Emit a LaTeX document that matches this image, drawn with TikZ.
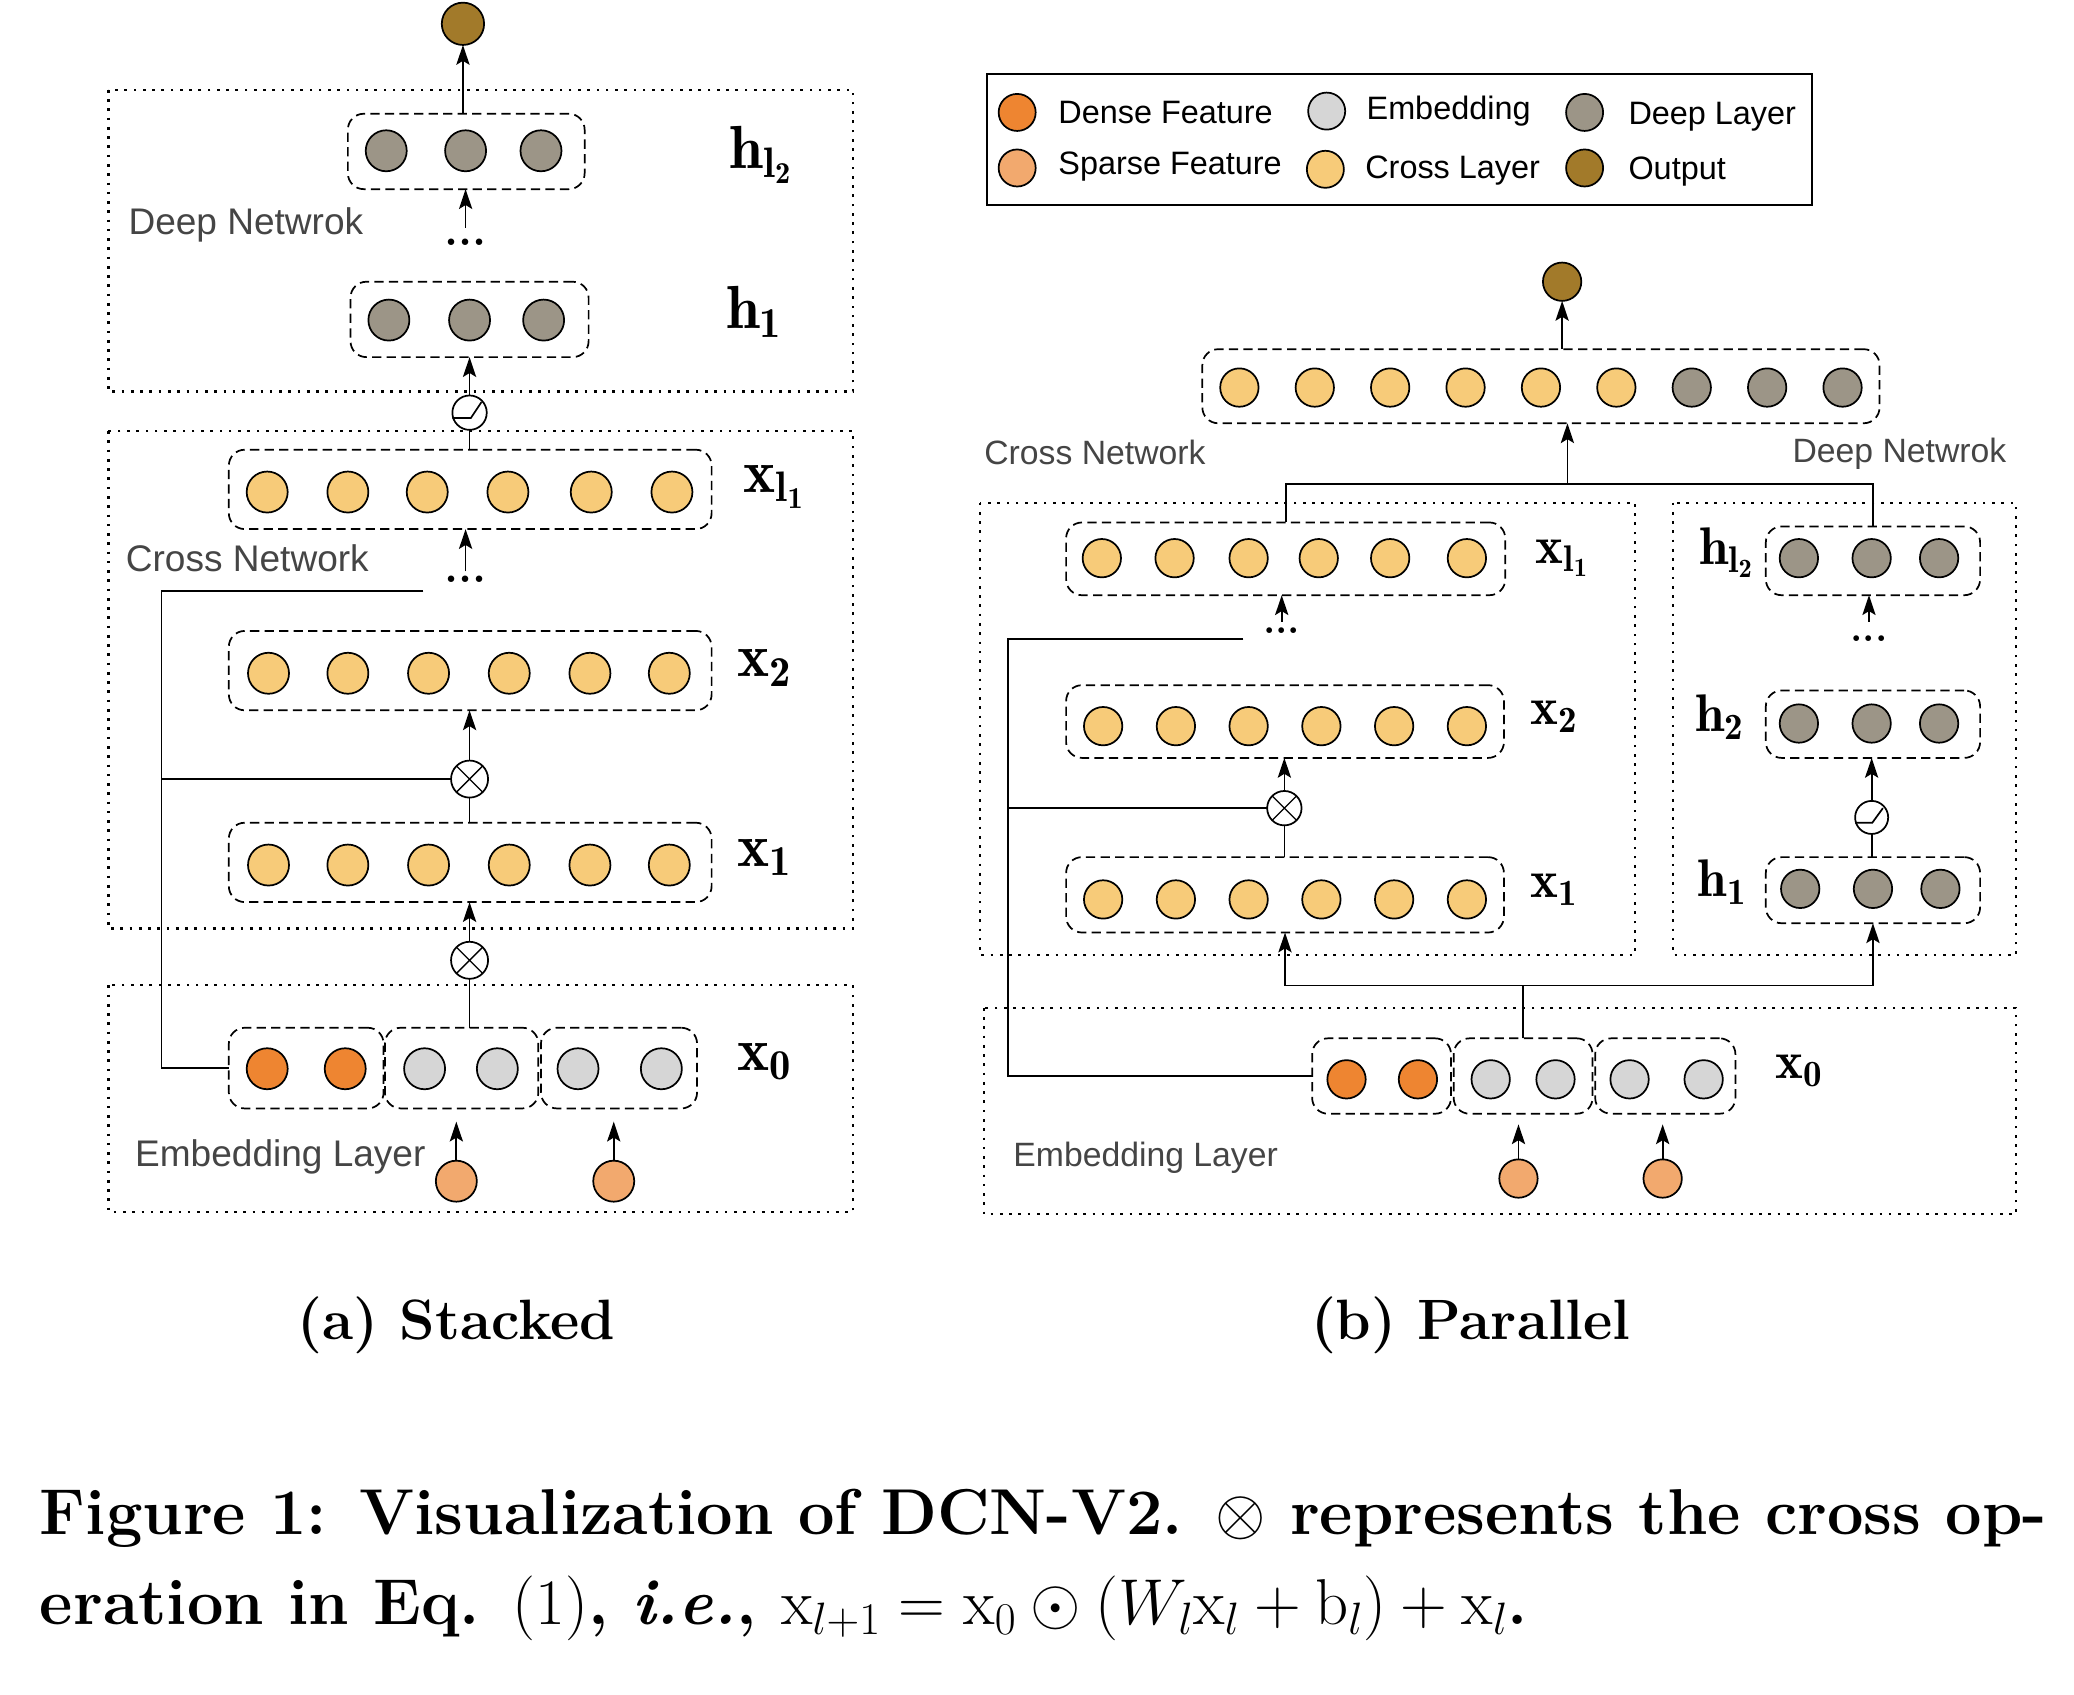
\RequirePackage{fix-cm}
\documentclass[tikz,border=0pt]{standalone}
\usepackage{fontspec}
\setsansfont{Liberation Sans}
\usetikzlibrary{arrows.meta,calc}
\definecolor{crossc}{HTML}{F7CB79}
\definecolor{deepc}{HTML}{9C9587}
\definecolor{densec}{HTML}{EE8531}
\definecolor{sparsec}{HTML}{F2A96E}
\definecolor{embc}{HTML}{D6D6D6}
\definecolor{outc}{HTML}{A27A2A}
\definecolor{labgray}{HTML}{454545}
\begin{document}
\begin{tikzpicture}[x=1pt,y=-1pt,
 conn/.style={line width=1.3pt},
 arr/.style={conn,-{Stealth[length=15pt,width=10pt,inset=3pt]}},
 neuron/.style={circle,draw=black,line width=1.3pt,minimum size=31pt,inner sep=0pt,outer sep=0pt},
 neuronb/.style={neuron,minimum size=29pt},
 crossA/.style={neuron,fill=crossc}, deepA/.style={neuron,fill=deepc},
 denseA/.style={neuron,fill=densec}, embA/.style={neuron,fill=embc},
 sparseA/.style={neuron,fill=sparsec}, outA/.style={neuron,fill=outc,minimum size=32pt},
 crossB/.style={neuronb,fill=crossc}, deepB/.style={neuronb,fill=deepc},
 denseB/.style={neuronb,fill=densec}, embB/.style={neuronb,fill=embc},
 sparseB/.style={neuronb,fill=sparsec}, outB/.style={neuronb,fill=outc},
 legc/.style={neuron,minimum size=28pt},
 grp/.style={draw,line width=1.3pt,dash pattern=on 7pt off 4pt,rounded corners=12pt,inner sep=0pt,outer sep=0pt},
 outerbox/.style={line width=1.6pt,dash pattern=on 2pt off 5pt},
 opnode/.style={circle,draw=black,fill=white,line width=1.3pt,inner sep=0pt,outer sep=0pt,minimum size=28pt},
 opnodeb/.style={opnode,minimum size=26pt},
 mlabA/.style={inner sep=0pt,font=\fontsize{46}{48}\selectfont},
 mlabB/.style={inner sep=0pt,font=\fontsize{40}{42}\selectfont},
 dotsA/.style={inner sep=0pt,font=\bfseries\fontsize{34}{36}\selectfont},
 netlabA/.style={inner sep=0pt,anchor=west,text=labgray,font=\sffamily\fontsize{28}{30}\selectfont},
 netlabB/.style={inner sep=0pt,text=labgray,font=\sffamily\fontsize{25.5}{28}\selectfont},
 legtext/.style={inner sep=0pt,anchor=west,font=\sffamily\fontsize{24.5}{27}\selectfont},
 subcap/.style={inner sep=0pt,font=\bfseries\fontsize{43}{46}\selectfont},
 figcap/.style={inner sep=0pt,anchor=base west,font=\bfseries\fontsize{49}{52}\selectfont}
]
\useasboundingbox (0,0) rectangle (1568,1281);

%================ (a) Stacked =================
\draw[outerbox] (82,68) rectangle (645,296);
\draw[outerbox] (82,326) rectangle (645,702);
\draw[outerbox] (82,745) rectangle (645,916);

\node[outA] (aO) at (350,18) {};
% deep
\foreach \x [count=\i] in {292,352,409} \node[deepA] (aHl\i) at (\x,114) {};
\node[grp,minimum width=179pt,minimum height=57pt] (aH2) at (352.5,114.5) {};
\foreach \x [count=\i] in {294,355,411} \node[deepA] (aHa\i) at (\x,242) {};
\node[grp,minimum width=180pt,minimum height=57pt] (aH1) at (355,241.5) {};
\node[mlabA] (aLh2) at (575,117) {$\mathbf{h_{l_2}}$};
\node[mlabA] (aLh1) at (570,236) {$\mathbf{h_1}$};
\node[netlabA] (aDN) at (97,170) {Deep Netwrok};
\node[dotsA] (aD2) at (352,183) {...};
\coordinate (aD2t) at (352,172);
\draw[arr] (aD2t) -- (aD2t |- aH2.south);
\draw[arr] (aO.south |- aH2.north) -- (aO.south);

% relu
\node[opnode,minimum size=26pt] (aR) at (355,312) {};
\draw[conn] ($(aR.center)+(-13,4)$) -- ++(14,0) -- ++(8,-12);
\draw[arr] (aR.north) -- (aR.north |- aH1.south);

% cross
\foreach \x [count=\i] in {202,263,323,384,447,508} \node[crossA] (aXl\i) at (\x,372) {};
\node[grp,minimum width=365pt,minimum height=60pt] (aXl) at (355.5,370) {};
\foreach \x [count=\i] in {203,263,324,385,446,506} \node[crossA] (aXb\i) at (\x,509) {};
\node[grp,minimum width=365pt,minimum height=60pt] (aX2) at (355.5,507) {};
\foreach \x [count=\i] in {203,263,324,385,446,506} \node[crossA] (aXa\i) at (\x,654) {};
\node[grp,minimum width=365pt,minimum height=60pt] (aX1) at (355.5,652) {};
\draw[conn] (aR.south) -- (aR.south |- aXl.north);
\node[mlabA] (aLxl) at (585,368) {$\mathbf{x_{l_1}}$};
\node[mlabA] (aLx2) at (578,505) {$\mathbf{x_2}$};
\node[mlabA] (aLx1) at (578,648) {$\mathbf{x_1}$};
\node[netlabA] (aCN) at (95,422) {Cross Network};
\node[dotsA] (aD1) at (352,438) {...};
\coordinate (aD1t) at (352,432);
\draw[arr] (aD1t) -- (aD1t |- aXl.south);

\node[opnode] (aM2) at (355,589) {};
\draw[conn,line width=1pt] (aM2.north west) -- (aM2.south east) (aM2.north east) -- (aM2.south west);
\draw[arr] (aM2.north) -- (aM2.north |- aX2.south);
\draw[conn] (aM2.south) -- (aM2.south |- aX1.north);
\node[opnode] (aM1) at (355,726) {};
\draw[conn,line width=1pt] (aM1.north west) -- (aM1.south east) (aM1.north east) -- (aM1.south west);
\draw[arr] (aM1.north) -- (aM1.north |- aX1.south);

% embedding
\node[denseA] (aE1) at (202,808) {};
\node[denseA] (aE2) at (261,808) {};
\node[embA] (aE3) at (321,808) {};
\node[embA] (aE4) at (376,808) {};
\node[embA] (aE5) at (437,808) {};
\node[embA] (aE6) at (500,808) {};
\node[grp,minimum width=117pt,minimum height=61pt] (aG1) at (231.5,807.5) {};
\node[grp,minimum width=116pt,minimum height=61pt] (aG2) at (349,807.5) {};
\node[grp,minimum width=118pt,minimum height=61pt] (aG3) at (468,807.5) {};
\node[mlabA] (aLx0) at (578,803) {$\mathbf{x_0}$};
\node[netlabA] (aEL) at (102,875) {Embedding Layer};
\draw[conn] (aM1.south) -- (aM1.south |- aG2.north);
\node[sparseA] (aS1) at (345,893) {};
\node[sparseA] (aS2) at (464,893) {};
\draw[arr] (aS1.north) -- ($(aS1.north |- aG2.south)+(0,10)$);
\draw[arr] (aS2.north) -- ($(aS2.north |- aG3.south)+(0,10)$);

% skip connections
\coordinate (aSk0) at (320,447);
\coordinate (aSk) at (122,447);
\draw[conn] (aSk0) -- (aSk) |- (aG1.west);
\draw[conn] (aSk |- aM2.west) -- (aM2.west);

\node[subcap] (aCap) at (345,1002) {(a) Stacked};

%================ (b) Parallel =================
% legend
\draw[line width=1.4pt] (746,56) rectangle (1370,155);
\node[legc,fill=densec] (lg1) at (769,85) {};
\node[legtext] at (800,85) {Dense Feature};
\node[legc,fill=sparsec] (lg2) at (769,127) {};
\node[legtext] at (800,126) {Sparse Feature};
\node[legc,fill=embc] (lg3) at (1003,84) {};
\node[legtext] at (1033,84) {Embedding};
\node[legc,fill=crossc] (lg4) at (1002,128) {};
\node[legtext] at (1032,129) {Cross Layer};
\node[legc,fill=deepc] (lg5) at (1198,85) {};
\node[legtext] at (1231,88) {Deep Layer};
\node[legc,fill=outc] (lg6) at (1198,127) {};
\node[legtext] at (1231,130) {Output};

\draw[outerbox] (741,380) rectangle (1236,722);
\draw[outerbox] (1265,380) rectangle (1524,722);
\draw[outerbox] (744,762) rectangle (1524,918);

\node[outB] (bO) at (1181,213) {};
\foreach \x [count=\i] in {937,994,1051,1108,1165,1222} \node[crossB] (bCc\i) at (\x,293) {};
\foreach \x [count=\i] in {1279,1336,1393} \node[deepB] (bCd\i) at (\x,293) {};
\node[grp,minimum width=512pt,minimum height=56pt] (bC) at (1165,292) {};
\draw[arr] (bO.south |- bC.north) -- (bO.south);
\coordinate (bJ) at (1185,366);
\draw[arr] (bJ) -- (bJ |- bC.south);
\node[netlabB,anchor=west] (bCN) at (744,342) {Cross Network};
\node[netlabB,anchor=east] (bDN) at (1517,343) {Deep Netwrok};

% cross side
\foreach \x [count=\i] in {833,888,944,997,1051,1109} \node[crossB] (bXl\i) at (\x,422) {};
\node[grp,minimum width=332pt,minimum height=55pt] (bXl) at (972,422.5) {};
\foreach \x [count=\i] in {834,889,944,999,1054,1109} \node[crossB] (bXb\i) at (\x,549) {};
\node[grp,minimum width=331pt,minimum height=55pt] (bX2) at (971.5,545.5) {};
\foreach \x [count=\i] in {834,889,944,999,1054,1109} \node[crossB] (bXa\i) at (\x,680) {};
\node[grp,minimum width=331pt,minimum height=57pt] (bX1) at (971.5,676.5) {};
\node[mlabB] (bLxl) at (1181,422) {$\mathbf{x_{l_1}}$};
\node[mlabB] (bLx2) at (1175,542) {$\mathbf{x_2}$};
\node[mlabB] (bLx1) at (1175,673) {$\mathbf{x_1}$};
\draw[conn] (bXl.north) |- (bJ) -| (1416,398);

\node[dotsA,font=\bfseries\fontsize{30}{32}\selectfont] (bD1) at (969,477) {...};
\coordinate (bD1t) at (969,470);
\draw[arr] (bD1t) -- (bD1t |- bXl.south);
\node[opnodeb] (bM) at (971,611) {};
\draw[conn,line width=1pt] (bM.north west) -- (bM.south east) (bM.north east) -- (bM.south west);
\draw[arr] (bM.north) -- (bM.north |- bX2.south);
\draw[conn] (bM.south) -- (bM.south |- bX1.north);

% deep side
\foreach \x [count=\i] in {1360,1415,1466} \node[deepB] (bHl\i) at (\x,422) {};
\node[grp,minimum width=162pt,minimum height=52pt] (bHl) at (1416,424) {};
\foreach \x [count=\i] in {1360,1415,1466} \node[deepB] (bHb\i) at (\x,547) {};
\node[grp,minimum width=162pt,minimum height=51pt] (bH2) at (1416,547.5) {};
\foreach \x [count=\i] in {1361,1416,1467} \node[deepB] (bHa\i) at (\x,672) {};
\node[grp,minimum width=162pt,minimum height=50pt] (bH1) at (1416,673) {};
\node[mlabB] (bLhl) at (1305,418) {$\mathbf{h_{l_2}}$};
\node[mlabB] (bLh2) at (1300,542) {$\mathbf{h_2}$};
\node[mlabB] (bLh1) at (1302,667) {$\mathbf{h_1}$};
\node[dotsA,font=\bfseries\fontsize{30}{32}\selectfont] (bD2) at (1413,483) {...};
\coordinate (bD2t) at (1413,470);
\draw[arr] (bD2t) -- (bD2t |- bHl.south);
\node[opnodeb,minimum size=25pt] (bR) at (1415,618) {};
\draw[conn] ($(bR.center)+(-12.5,4)$) -- ++(13,0) -- ++(8,-11);
\draw[arr] (bR.north) -- (bR.north |- bH2.south);
\draw[conn] (bR.south) -- (bR.south |- bH1.north);

% embedding
\node[denseB] (bE1) at (1018,816) {};
\node[denseB] (bE2) at (1072,816) {};
\node[embB] (bE3) at (1127,816) {};
\node[embB] (bE4) at (1176,816) {};
\node[embB] (bE5) at (1232,816) {};
\node[embB] (bE6) at (1288,816) {};
\node[grp,minimum width=105pt,minimum height=57pt] (bG1) at (1044.5,813.5) {};
\node[grp,minimum width=105pt,minimum height=57pt] (bG2) at (1151.5,813.5) {};
\node[grp,minimum width=106pt,minimum height=57pt] (bG3) at (1259,813.5) {};
\node[mlabB] (bLx0) at (1360,810) {$\mathbf{x_0}$};
\node[netlabB,anchor=west] (bEL) at (766,875) {Embedding Layer};
\node[sparseB] (bS1) at (1148,891) {};
\node[sparseB] (bS2) at (1257,891) {};
\draw[arr] (bS1.north) -- ($(bS1.north |- bG2.south)+(0,8)$);
\draw[arr] (bS2.north) -- ($(bS2.north |- bG3.south)+(0,8)$);

\coordinate (bJ2) at (1151.5,745);
\draw[conn] (bG2.north) -- (bJ2);
\draw[arr] (bJ2) -| (bX1.south);
\draw[arr] (bJ2) -| (bH1.south);

\coordinate (bSk0) at (940,483);
\coordinate (bSk) at (762,483);
\draw[conn] (bSk0) -- (bSk) |- (bG1.west);
\draw[conn] (bSk |- bM.west) -- (bM.west);

\node[subcap] (bCap) at (1112,1002) {(b) Parallel};

%================ caption =================
\node[figcap] (cap1) at (30,1160) {Figure 1: Visualization of DCN-V2. $\otimes$ represents the cross op-};
\node[figcap] (cap2) at (30,1228) {eration in Eq. \textmd{(1)}, \textit{i.e.}, \mdseries$\mathrm{x}_{l+1}=\mathrm{x}_0\odot(W_l\mathrm{x}_l+\mathrm{b}_l)+\mathrm{x}_l$\bfseries.};
\end{tikzpicture}
\end{document}
